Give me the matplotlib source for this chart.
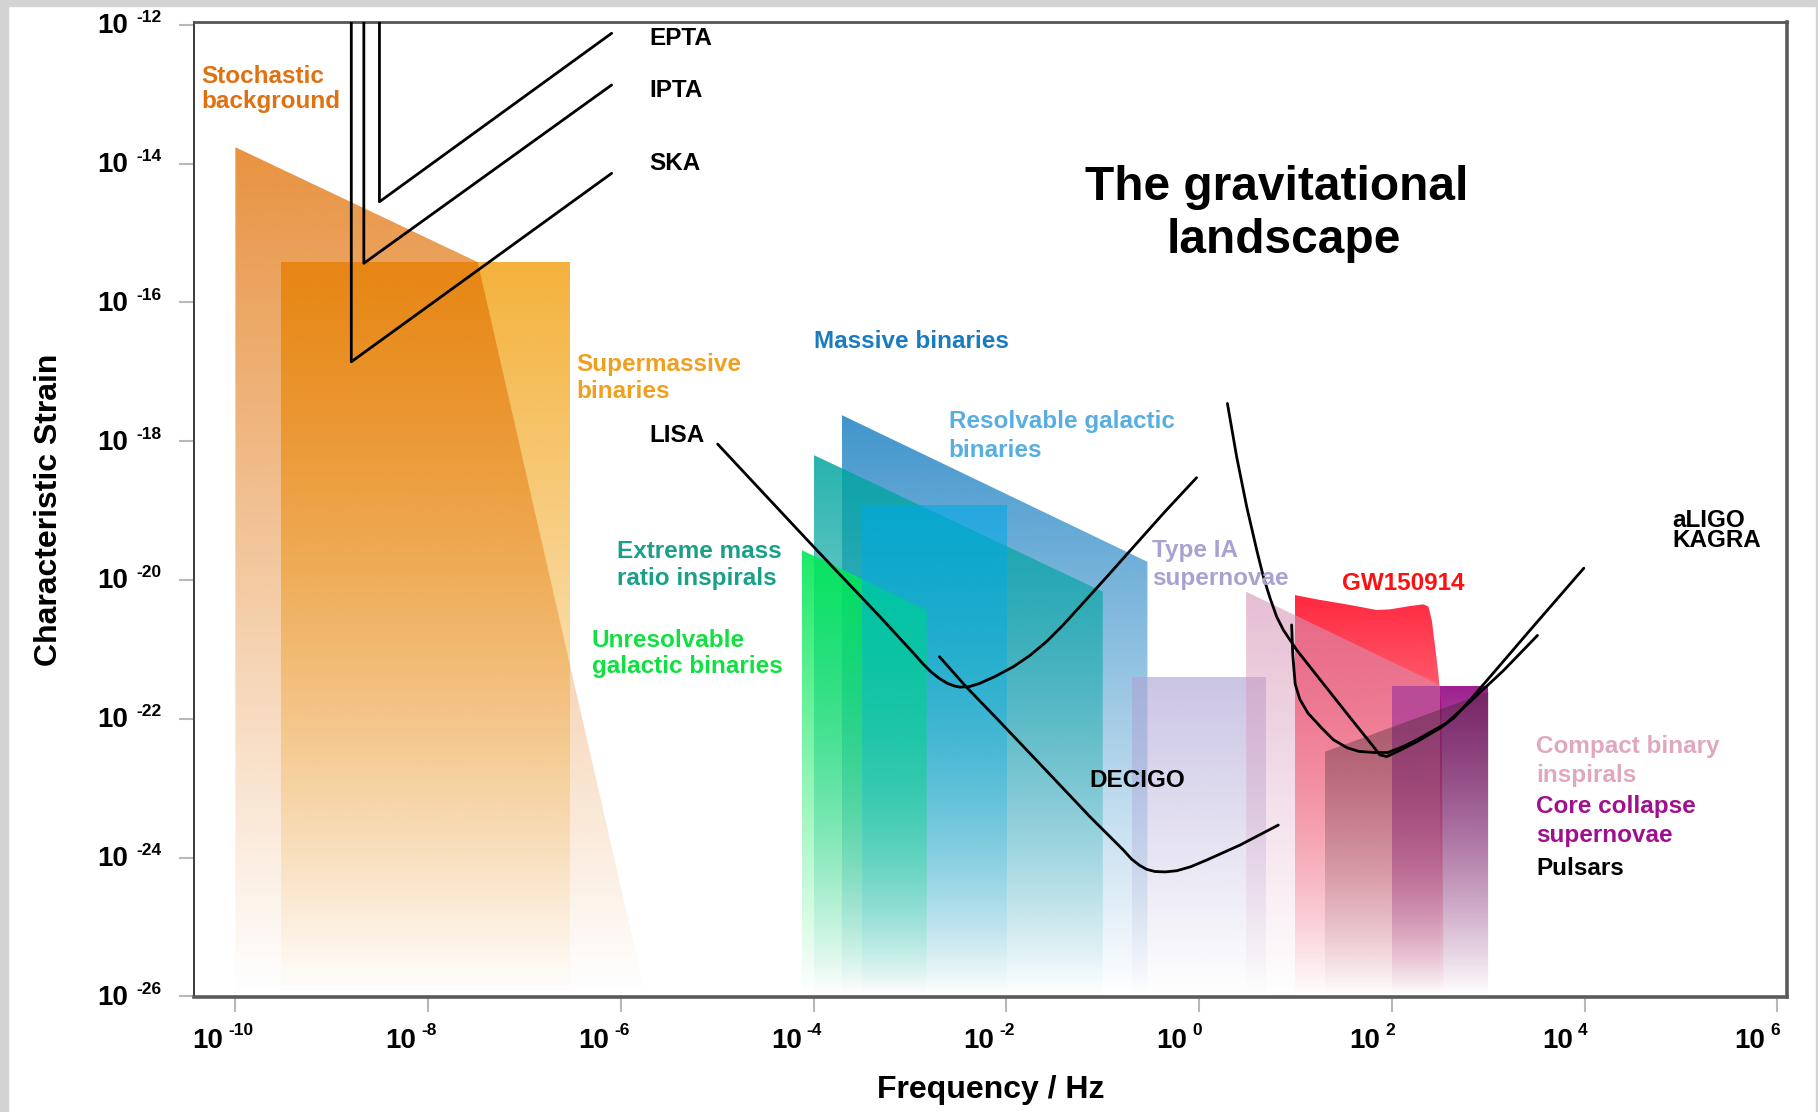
import numpy as np
import matplotlib
matplotlib.use("Agg")
import matplotlib.pyplot as plt
from matplotlib.patches import Polygon, Rectangle
from matplotlib.colors import to_rgb
from matplotlib.transforms import blended_transform_factory

plt.rcParams['font.family'] = ['Liberation Sans', 'DejaVu Sans']
plt.rcParams['font.weight'] = 'bold'

# --------------------------
# Data: everything in log10(frequency / Hz) and log10(characteristic strain)
# --------------------------
x_ticks = [-10, -8, -6, -4, -2, 0, 2, 4, 6]
y_ticks = [-12, -14, -16, -18, -20, -22, -24, -26]

# source regions (outlines)
stoch_f = [-10.0, -10.0, -7.486, -5.741]
stoch_h = [-26.0, -13.764, -15.419, -26.0]
smbh_f = [-9.531, -9.531, -6.527, -6.527]
smbh_h = [-26.0, -15.414, -15.414, -26.0]
massive_f = [-3.711, -3.711, -0.537, -0.537]
massive_h = [-26.0, -17.622, -19.738, -26.0]
emri_f = [-4.0, -4.0, -1.0, -1.0]
emri_h = [-26.0, -18.199, -20.169, -26.0]
unres_f = [-4.124, -4.124, -2.827, -2.827]
unres_h = [-26.0, -19.569, -20.433, -26.0]
resolv_f = [-3.501, -3.501, -1.996, -1.996]
resolv_h = [-26.0, -18.921, -18.921, -26.0]
typeia_f = [-0.699, -0.699, 0.690, 0.690]
typeia_h = [-26.0, -21.393, -21.393, -26.0]
gw_f = [0.994, 0.994, 1.219, 1.566, 1.842, 1.981, 2.188, 2.326, 2.378,
        2.413, 2.448, 2.481, 2.516, 2.535]
gw_h = [-26.0, -20.218, -20.279, -20.361, -20.433, -20.423, -20.376, -20.351,
        -20.384, -20.577, -20.962, -21.345, -21.875, -26.0]
ccsn_f = [1.998, 1.998, 3.0, 3.0]
ccsn_h = [-26.0, -21.529, -21.529, -26.0]
cbc_f = [0.487, 0.487, 2.499, 2.499]
cbc_h = [-26.0, -20.169, -21.514, -26.0]
psr_f = [1.306, 1.306, 3.0, 3.0]
psr_h = [-26.0, -22.475, -21.611, -26.0]

# detector sensitivity curves
epta_f = [-8.505, -8.505, -6.096]
epta_h = [-11.9, -14.550, -12.122]
ipta_f = [-8.667, -8.667, -6.096]
ipta_h = [-11.9, -15.437, -12.867]
ska_f = [-8.797, -8.797, -6.096]
ska_h = [-11.9, -16.856, -14.140]
lisa_f = [-4.996, -4.502, -3.973, -3.311, -2.962, -2.866, -2.782, -2.698, -2.614,
          -2.541, -2.481, -2.385, -2.277, -2.120, -1.928, -1.759, -1.579, -1.411,
          -1.236, -0.953, -0.653, -0.352, -0.027]
lisa_h = [-18.042, -18.777, -19.562, -20.531, -21.058, -21.208, -21.325, -21.417,
          -21.489, -21.527, -21.544, -21.537, -21.490, -21.392, -21.250, -21.091,
          -20.882, -20.648, -20.381, -19.947, -19.479, -19.011, -18.526]
decigo_f = [-2.695, -2.413, -2.101, -1.615, -1.133, -0.787, -0.701, -0.616, -0.544,
            -0.460, -0.352, -0.232, -0.087, 0.079, 0.424, 0.821]
decigo_h = [-21.106, -21.547, -21.995, -22.705, -23.412, -23.891, -24.023, -24.115,
            -24.170, -24.201, -24.207, -24.190, -24.132, -24.035, -23.820, -23.532]
aligo_f = [0.293, 0.389, 0.493, 0.597, 0.666, 0.736, 0.804, 0.874, 1.012, 1.272,
           1.573, 1.789, 1.874, 1.946, 2.054, 2.259, 2.499, 2.644, 2.776, 3.077,
           3.438, 3.991]
aligo_h = [-17.457, -18.226, -18.944, -19.569, -19.953, -20.264, -20.530, -20.722,
           -21.009, -21.467, -21.995, -22.369, -22.520, -22.545, -22.475, -22.331,
           -22.135, -21.985, -21.785, -21.300, -20.715, -19.830]
kagra_f = [0.959, 0.971, 0.996, 1.044, 1.128, 1.272, 1.392, 1.537, 1.657, 1.813,
           1.958, 2.114, 2.259, 2.559, 2.788, 3.161, 3.510]
kagra_h = [-20.648, -21.083, -21.500, -21.718, -21.918, -22.135, -22.302, -22.419,
           -22.470, -22.486, -22.486, -22.403, -22.302, -22.069, -21.785, -21.300,
           -20.799]

# --------------------------
# Figure
# --------------------------
fig = plt.figure(figsize=(18.18, 11.12), dpi=100, facecolor='white')
for r in [(0, 0, 8 / 1818, 1), (0, 1 - 6 / 1112, 1, 6 / 1112), (1 - 2 / 1818, 0, 2 / 1818, 1)]:
    fig.patches.append(Rectangle(r[:2], r[2], r[3], transform=fig.transFigure,
                                 color='#d3d3d3', zorder=-5))

ax = fig.add_axes([0.1065, 0.1037, 0.8763, 0.8768])


def shaded(fs, hs, color, alpha, z):
    # region filled with its colour, fading out towards the bottom of the plot
    poly = Polygon(np.column_stack([fs, hs]), closed=True, fc='none', ec='none')
    ax.add_patch(poly)
    img = np.zeros((300, 1, 4))
    img[:, 0, :3] = to_rgb(color)
    img[:, 0, 3] = np.linspace(alpha, 0.0, 300)
    im = ax.imshow(img, extent=(min(fs), max(fs), min(hs), max(hs)), origin='upper',
                   aspect='auto', interpolation='bilinear', zorder=z)
    im.set_clip_path(poly)


shaded(smbh_f, smbh_h, '#F2A418', 0.85, 1)
shaded(stoch_f, stoch_h, '#E06E00', 0.75, 2)
shaded(massive_f, massive_h, '#1E82C3', 0.85, 1)
shaded(emri_f, emri_h, '#00A5A0', 0.85, 2)
shaded(unres_f, unres_h, '#00E855', 0.9, 3)
shaded(resolv_f, resolv_h, '#00AAE6', 0.6, 4)
shaded(typeia_f, typeia_h, '#AFA5D7', 0.65, 1)
shaded(gw_f, gw_h, '#FF142D', 0.92, 2)
shaded(ccsn_f, ccsn_h, '#90007F', 0.88, 3)
shaded(cbc_f, cbc_h, '#D796B9', 0.62, 4)
shaded(psr_f, psr_h, '#462832', 0.45, 5)

for fs, hs in [(epta_f, epta_h), (ipta_f, ipta_h), (ska_f, ska_h), (lisa_f, lisa_h),
               (decigo_f, decigo_h), (aligo_f, aligo_h), (kagra_f, kagra_h)]:
    ax.plot(fs, hs, color='black', lw=2.0, zorder=6, solid_joinstyle='round',
            solid_capstyle='round')

ax.set_xlim(-10.433, 6.096)
ax.set_ylim(-26.005, -11.955)

# frame and ticks
ax.spines['left'].set(color='#3a3a3a', lw=1.4)
ax.spines['top'].set(color='#555555', lw=2.0)
ax.spines['right'].set(color='#5a5a5a', lw=2.6)
ax.spines['bottom'].set(color='#5a5a5a', lw=2.6)
ax.set_xticks(x_ticks)
ax.set_yticks(y_ticks)
ax.tick_params(direction='out', length=11, width=1.5, color='#b8b8b8',
               labelbottom=False, labelleft=False)

xt = blended_transform_factory(ax.transData, fig.transFigure)
for e in x_ticks:
    ax.annotate('10', xy=(e, 0.0576), xycoords=xt, xytext=(-12, 0),
                textcoords='offset pixels', ha='right', va='baseline',
                fontsize=20, annotation_clip=False)
    ax.annotate(str(e), xy=(e, 0.0692), xycoords=xt, xytext=(-7, 0),
                textcoords='offset pixels', ha='left', va='baseline',
                fontsize=12.5, annotation_clip=False)

yt = blended_transform_factory(fig.transFigure, ax.transData)
for e in y_ticks:
    ax.annotate('10', xy=(0.0704, e), xycoords=yt, xytext=(0, -8.5),
                textcoords='offset pixels', ha='right', va='baseline',
                fontsize=20, annotation_clip=False)
    ax.annotate(str(e), xy=(0.0748, e), xycoords=yt, xytext=(0, 2.6),
                textcoords='offset pixels', ha='left', va='baseline',
                fontsize=12.5, annotation_clip=False)

fig.text(0.0272, 0.5412, 'Characteristic Strain', rotation=90, ha='center',
         va='center', fontsize=23)
fig.text(0.545, 0.0126, 'Frequency / Hz', ha='center', va='baseline', fontsize=23)

fig.text(0.7024, 0.8201, 'The gravitational', ha='center', va='baseline', fontsize=34.5)
fig.text(0.7063, 0.7725, 'landscape', ha='center', va='baseline', fontsize=34.5)

# labels: (text lines, x, first baseline, second baseline, colour)
labels = [
    (['Stochastic', 'background'], -10.357, -12.844, -13.203, '#E07010'),
    (['EPTA'], -5.705, -12.291, None, 'black'),
    (['IPTA'], -5.705, -13.036, None, 'black'),
    (['SKA'], -5.705, -14.092, None, 'black'),
    (['Supermassive', 'binaries'], -6.467, -16.989, -17.384, '#F0A020'),
    (['LISA'], -5.705, -18.008, None, 'black'),
    (['Massive binaries'], -3.997, -16.655, None, '#1A7CC0'),
    (['Resolvable galactic', 'binaries'], -2.599, -17.815, -18.224, '#58AEE0'),
    (['Extreme mass', 'ratio inspirals'], -6.043, -19.689, -20.074, '#1AA088'),
    (['Unresolvable', 'galactic binaries'], -6.303, -20.962, -21.345, '#10E040'),
    (['Type IA', 'supernovae'], -0.491, -19.664, -20.074, '#A8A2D2'),
    (['GW150914'], 1.479, -20.145, None, '#FF1010'),
    (['aLIGO', 'KAGRA'], 4.905, -19.233, -19.520, 'black'),
    (['DECIGO'], -1.140, -22.979, None, 'black'),
    (['Compact binary', 'inspirals'], 3.498, -22.498, -22.907, '#E0A8C0'),
    (['Core collapse', 'supernovae'], 3.498, -23.363, -23.771, '#A0108C'),
    (['Pulsars'], 3.498, -24.252, None, 'black'),
]
for lines, x, y1, y2, c in labels:
    for txt, y in zip(lines, [y1, y2]):
        ax.text(x, y, txt, color=c, fontsize=17.5, ha='left', va='baseline', zorder=8)

fig.savefig('out.png', dpi=100, facecolor='white')
